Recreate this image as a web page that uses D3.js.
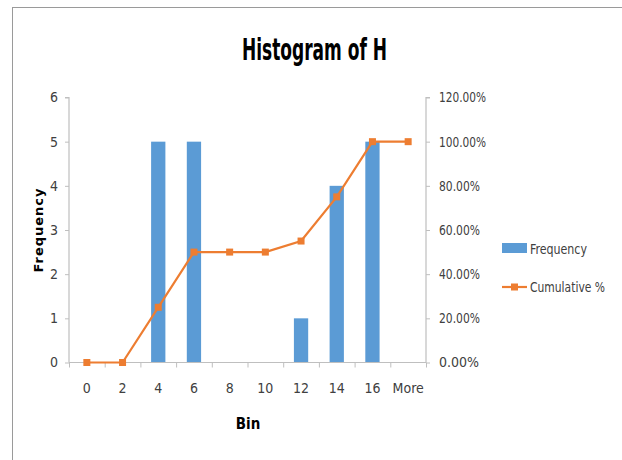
<!DOCTYPE html>
<html><head><meta charset="utf-8">
<script src="https://cdn.jsdelivr.net/npm/d3@7"></script>
<style>
html,body{margin:0;padding:0;background:#fff;}
svg text{font-family:"DejaVu Sans Condensed","DejaVu Sans",sans-serif;font-stretch:condensed;}
</style></head>
<body>
<svg id="chart" width="622" height="460"></svg>
<script>
const categories = ["0","2","4","6","8","10","12","14","16","More"];
const frequency = [0,0,5,5,0,0,1,4,5,0];
const cumulative = [0,0,0.25,0.5,0.5,0.5,0.55,0.75,1,1];
const freqTicks = [0,1,2,3,4,5,6];
const pctTicks = [0,0.2,0.4,0.6,0.8,1.0,1.2];
const title = "Histogram of H";
const xTitle = "Bin";
const yTitle = "Frequency";
const legendLabels = ["Frequency","Cumulative %"];

(function(){
const svg = d3.select("#chart");
const barColor = "#5B9BD5", lineColor = "#ED7D31", axisColor = "#BFBFBF", textColor = "#404040";
const narrow = '"DejaVu Sans Condensed","DejaVu Sans",sans-serif';

svg.append("rect").attr("x",12.5).attr("y",7.5).attr("width",640).attr("height",480)
  .attr("fill","none").attr("stroke","#9a9a9a").attr("stroke-width",1);

const pL = 69, pR = 426, pT = 97.5, pB = 362.5;

const x = d3.scaleBand().domain(categories).range([pL,pR]).paddingInner(0).paddingOuter(0);
const y = d3.scaleLinear().domain([0,6]).range([pB,pT]);
const y2 = d3.scaleLinear().domain([0,1.2]).range([pB,pT]);

const bw = x.bandwidth()/2.5;
svg.append("g").selectAll("rect").data(frequency).join("rect")
  .attr("x",(d,i)=>x(categories[i])+x.bandwidth()/2-bw/2)
  .attr("y",d=>y(d)).attr("width",bw).attr("height",d=>pB-y(d))
  .attr("fill",barColor);

const gy = svg.append("g").attr("transform",`translate(${pL},0)`)
  .call(d3.axisLeft(y).tickValues(freqTicks).tickSize(4).tickPadding(7).tickFormat(d3.format("d")));
const gy2 = svg.append("g").attr("transform",`translate(${pR},0)`)
  .call(d3.axisRight(y2).tickValues(pctTicks).tickSize(4).tickPadding(9).tickFormat(d3.format(".2%")));
const gx = svg.append("g").attr("transform",`translate(0,${pB})`)
  .call(d3.axisBottom(x).tickSize(0).tickPadding(21));
gx.append("g").selectAll("line").data(categories.concat(["_end"])).join("line")
  .attr("x1",(d,i)=>pL+i*x.bandwidth()+0.5).attr("x2",(d,i)=>pL+i*x.bandwidth()+0.5)
  .attr("y1",0).attr("y2",5).attr("stroke",axisColor);

[gy,gy2,gx].forEach(g=>{
  g.selectAll(".domain").attr("stroke",axisColor).attr("stroke-width",1.2);
  g.selectAll(".tick line").attr("stroke",axisColor);
  g.selectAll("text").attr("font-size",14).attr("fill",textColor)
    .style("font-family",narrow).style("font-stretch","condensed");
});
gy2.selectAll(".tick text").attr("textLength",47).attr("lengthAdjust","spacingAndGlyphs");
gy2.selectAll(".tick").filter(d=>d<0.1).select("text").attr("textLength",40);
gy2.selectAll(".tick").filter(d=>d>1.1).select("text").attr("textLength",47);
gy2.selectAll(".tick").filter(d=>d>0.1&&d<0.9).select("text").attr("textLength",41);
gy.select(".domain").attr("d",`M-4,${pT}H0V${pB}`);
gy2.select(".domain").attr("d",`M4,${pT}H0V${pB}`);
gx.select(".domain").attr("d",`M${pL},0H${pR}`);

const line = d3.line().x((d,i)=>x(categories[i])+x.bandwidth()/2).y(d=>y2(d));
svg.append("path").datum(cumulative).attr("d",line).attr("fill","none")
  .attr("stroke",lineColor).attr("stroke-width",2.2);
svg.append("g").selectAll("rect").data(cumulative).join("rect")
  .attr("x",(d,i)=>x(categories[i])+x.bandwidth()/2-3.5).attr("y",d=>y2(d)-3.5)
  .attr("width",7).attr("height",7).attr("fill",lineColor);

svg.append("text").attr("x",314.5).attr("y",60).attr("text-anchor","middle")
  .attr("font-size",30).attr("font-weight","bold").attr("fill","#000")
  .attr("textLength",145).attr("lengthAdjust","spacingAndGlyphs").text(title);
svg.append("text").attr("x",248).attr("y",429).attr("text-anchor","middle")
  .attr("font-size",15).attr("font-weight","bold").attr("fill","#000").text(xTitle);
svg.append("text").attr("transform","translate(43,230) rotate(-90)").attr("text-anchor","middle")
  .attr("font-weight","bold").attr("fill","#000").attr("letter-spacing",1)
  .style("font-family",'"DejaVu Sans","Liberation Sans",sans-serif').style("font-stretch","normal")
  .attr("font-size",13).text(yTitle);

const lg = svg.append("g");
lg.append("rect").attr("x",502).attr("y",243).attr("width",25).attr("height",10).attr("fill",barColor);
lg.append("text").attr("x",530).attr("y",254).attr("font-size",14).attr("fill",textColor)
  .attr("textLength",57).attr("lengthAdjust","spacingAndGlyphs").text(legendLabels[0]);
lg.append("line").attr("x1",502).attr("x2",527).attr("y1",287).attr("y2",287).attr("stroke",lineColor).attr("stroke-width",2.2);
lg.append("rect").attr("x",511).attr("y",283.5).attr("width",7).attr("height",7).attr("fill",lineColor);
lg.append("text").attr("x",530).attr("y",292).attr("font-size",14).attr("fill",textColor)
  .attr("textLength",75).attr("lengthAdjust","spacingAndGlyphs").text(legendLabels[1]);
})();
</script>
</body></html>
